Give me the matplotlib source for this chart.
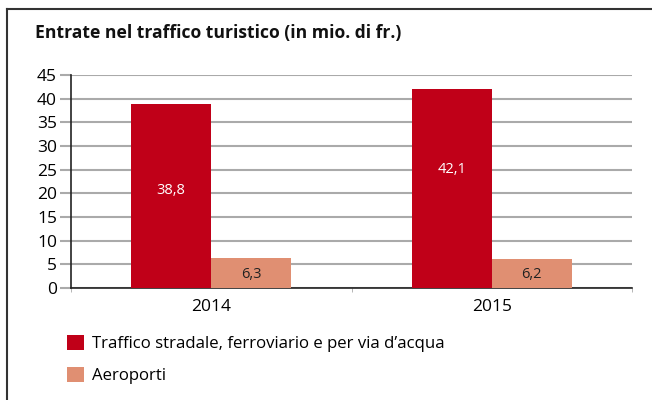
import matplotlib.pyplot as plt
import numpy as np

years = ['2014', '2015']
stradale = [38.8, 42.1]
aeroporti = [6.3, 6.2]
series_names = ["Traffico stradale, ferroviario e per via d\u2019acqua", 'Aeroporti']
yticks = [0, 5, 10, 15, 20, 25, 30, 35, 40, 45]
# label anchor heights as placed in the source
stradale_label_y = [20.6, 25.1]
aeroporti_label_y = [2.8, 2.8]

red = '#C00018'
salmon = '#E08F72'

plt.rcParams['font.family'] = ['Open Sans', 'DejaVu Sans']

fig = plt.figure(figsize=(6.52, 4.0), dpi=100)
ax = fig.add_axes([71/652, 1 - 288/400, 561/652, 213/400])

x = np.arange(len(years))
w = 0.2857
b1 = ax.bar(x - w/2, stradale, w, color=red, label=series_names[0], zorder=3)
b2 = ax.bar(x + w/2, aeroporti, w, color=salmon, label=series_names[1], zorder=3)

for r, v, ly in zip(b1, stradale, stradale_label_y):
    ax.text(r.get_x() + r.get_width()/2, ly, f'{v:.1f}'.replace('.', ','),
            ha='center', va='center', color='white', fontsize=10.5, zorder=4)
for r, v, ly in zip(b2, aeroporti, aeroporti_label_y):
    ax.text(r.get_x() + r.get_width()/2, ly, f'{v:.1f}'.replace('.', ','),
            ha='center', va='center', color='#222222', fontsize=10.5, zorder=4)

ax.set_xlim(-0.5, 1.5)
ax.set_ylim(0, 45)
ax.set_yticks(yticks)
ax.set_xticks(x)
ax.set_xticklabels(years)
ax.set_xticks([-0.5, 0.5, 1.5], minor=True)
ax.tick_params(axis='y', length=8, color='#aaaaaa', width=1.5, labelsize=12.5, pad=2)
ax.tick_params(axis='x', which='major', length=0, labelsize=12.5, pad=8)
ax.tick_params(axis='x', which='minor', length=3, color='#aaaaaa')
ax.yaxis.grid(True, color='#aaaaaa', linewidth=1.5, zorder=0)
for s in ['top', 'right']:
    ax.spines[s].set_visible(False)
ax.spines['left'].set_color('#222222')
ax.spines['bottom'].set_color('#222222')
ax.spines['left'].set_linewidth(1.2)
ax.spines['bottom'].set_linewidth(1.2)

fig.text(35/652, 1 - 33/400, 'Entrate nel traffico turistico (in mio. di fr.)',
         fontsize=12.6, fontweight='bold', va='center', ha='left', color='#111111')

ax.legend(loc='upper left', bbox_to_anchor=(60/652, 1 - 328/400),
          bbox_transform=fig.transFigure, frameon=False, fontsize=12.1,
          handlelength=1.0, handleheight=1.0, handletextpad=0.5, labelspacing=0.9,
          borderaxespad=0)

# frame lines
fig.add_artist(plt.Line2D([7/652, 7/652], [0, 1 - 9/400], color='#333333', linewidth=1.5))
fig.add_artist(plt.Line2D([7/652, 1], [1 - 9/400, 1 - 9/400], color='#333333', linewidth=1.5))

fig.savefig('out.png', dpi=100)
